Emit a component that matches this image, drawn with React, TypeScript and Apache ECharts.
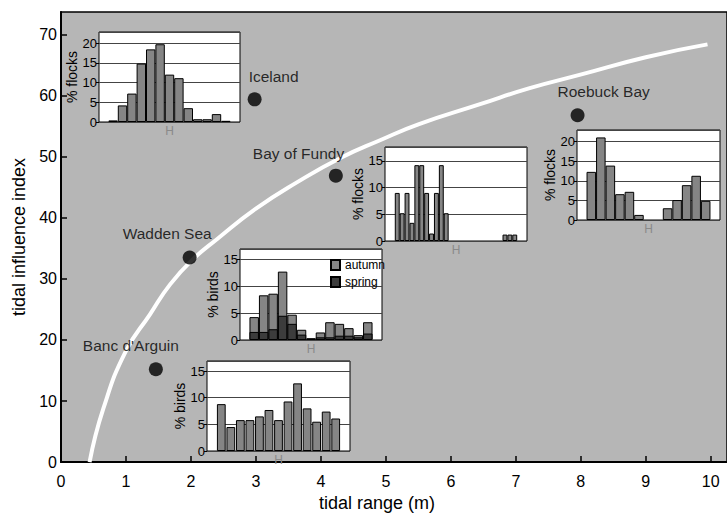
import React, { useEffect, useRef } from 'react';
import * as echarts from 'echarts';

const FONT = "'Liberation Sans Narrow', 'Liberation Sans', Arial, sans-serif";

// main scatter: sites
const siteNames = ['Iceland', 'Roebuck Bay', 'Bay of Fundy', 'Wadden Sea', "Banc d'Arguin"];
const siteRange = [2.98, 7.95, 4.23, 1.98, 1.46];
const siteIndex = [59.4, 56.8, 46.9, 33.5, 15.2];

// white trend curve
const curveRange = [0.44, 0.65, 1.0, 1.37, 1.68, 2.04, 2.4, 3.0, 3.63, 4.3, 4.91, 5.5, 6.45, 7.2, 7.98, 9.0, 9.95];
const curveIndex = [0, 8.7, 18.2, 24.2, 29.1, 33.3, 36.5, 41.5, 45.8, 49.8, 52.7, 55.3, 58.6, 61.2, 63.4, 66.3, 68.4];

// inset histograms (slots; null = empty)
const icelandFlocks = [null, 0.4, 4.2, 7.2, 14.8, 18.4, 19.7, 12, 11.1, 3.5, 0.7, 0.7, 2, 0.3, null];
const fundyFlocks = [null, null, 9, 5.2, 9, 3.4, 14.2, 14.2, 9, 1.4, 9, 14.2, 5.2,
  null, null, null, null, null, null, null, null, null, null, null, 1.2, 1.2, 1.2, null, null];
const roebuckFlocks = [null, 12.3, 21.1, 13.9, 6.6, 7.2, 1.3, null, null, 3, 5.1, 8.9, 11.3, 4.9, null];
const waddenAutumn = [null, 4.25, 8.3, 8.6, 12.7, 4.7, 1.9, 0.3, 1.4, 3.3, 3.0, 2.2, 0.9, 3.3, null];
const waddenSpring = [null, 1.5, 1.5, 2, 4.5, 3, 1, 0.3, 0.5, 0.5, 0.8, 0.8, 0.5, 1.2, null];
const bancBirds = [null, 8.8, 4.5, 5.8, 5.8, 6.5, 7.7, 5.8, 9.3, 12.7, 8.0, 5.5, 7.4, 6.1, null];

// layout of labels relative to dot (px)
const labelPos: [number, number][] = [[1, -16], [-13, -17], [-76, -15], [-60, -17], [-66, -17]];

type Inset = { box: [number, number, number, number]; max: number; yName: string; center: number; n: number };
const insets: Inset[] = [
  { box: [99, 32, 141, 90], max: 22.8, yName: '% flocks', center: 7, n: icelandFlocks.length },
  { box: [385, 147, 142, 94], max: 17.6, yName: '% flocks', center: 14, n: fundyFlocks.length },
  { box: [577, 130, 143, 90], max: 23, yName: '% flocks', center: 7, n: roebuckFlocks.length },
  { box: [240, 249, 142, 91], max: 16.9, yName: '% birds', center: 7, n: waddenAutumn.length },
  { box: [207, 361, 143, 90], max: 16.9, yName: '% birds', center: 7, n: bancBirds.length },
];

export default function App() {
  const ref = useRef<HTMLDivElement>(null);
  useEffect(() => {
    const chart = echarts.init(ref.current!, null, { renderer: 'svg' });

    const grids: any[] = [
      { left: 61, top: 12, width: 666, height: 459, show: true, backgroundColor: '#b6b6b6', borderColor: '#000', borderWidth: 1.5, z: 0 },
    ];
    const xAxes: any[] = [
      {
        type: 'value', gridIndex: 0, min: 0, max: 10.25, interval: 1, z: 1,
        axisLine: { show: true, onZero: false, lineStyle: { color: '#000', width: 2 } },
        axisTick: { inside: true, length: 6, lineStyle: { color: '#000', width: 1.5 } },
        axisLabel: { fontSize: 16, color: '#000', margin: 11, showMaxLabel: false, fontFamily: FONT },
        splitLine: { show: false },
        name: 'tidal range (m)', nameLocation: 'middle', nameGap: 31,
        nameTextStyle: { fontSize: 18, color: '#000', fontFamily: FONT, padding: [0, 34, 0, 0] },
      },
    ];
    const yAxes: any[] = [
      {
        type: 'value', gridIndex: 0, min: 0, max: 73.7, interval: 10, z: 1,
        axisLine: { show: true, onZero: false, lineStyle: { color: '#000', width: 2 } },
        axisTick: { inside: true, length: 6, lineStyle: { color: '#000', width: 1.5 } },
        axisLabel: { fontSize: 16, color: '#000', margin: 4, showMaxLabel: false, fontFamily: FONT },
        splitLine: { show: false },
        name: 'tidal influence index', nameLocation: 'middle', nameGap: 28, nameRotate: 90,
        nameTextStyle: { fontSize: 18, color: '#000', fontFamily: FONT },
      },
    ];

    insets.forEach((ins, k) => {
      const gi = k + 1;
      const [l, t, w, h] = ins.box;
      grids.push({ left: l, top: t, width: w, height: h, show: true, backgroundColor: '#fff', borderColor: '#000', borderWidth: 1, z: 10 });
      const slots = Array.from({ length: ins.n }, (_, i) => String(i));
      xAxes.push({
        type: 'category', gridIndex: gi, data: slots, z: 11,
        axisLine: { show: false }, axisTick: { show: false },
        axisLabel: {
          interval: 0, margin: 3, fontSize: 12, color: '#8a8a8a', fontFamily: FONT,
          formatter: (_v: string, i: number) => (i === ins.center ? 'H' : ''),
        },
        splitLine: { show: false },
      });
      yAxes.push({
        type: 'value', gridIndex: gi, min: 0, max: ins.max, interval: 5, z: 11,
        axisLine: { show: false },
        axisTick: { show: true, length: 3, lineStyle: { color: '#000' } },
        axisLabel: { fontSize: 13, margin: 2, color: '#000', showMaxLabel: false, fontFamily: FONT },
        splitLine: { show: true, lineStyle: { color: '#444', width: 1 } },
        name: ins.yName, nameLocation: 'middle', nameGap: 14, nameRotate: 90,
        nameTextStyle: { fontSize: 14, color: '#000', fontFamily: FONT },
      });
    });

    const barStyle = { color: '#858585', borderColor: '#000', borderWidth: 1 };
    const centerLine = (gi: number) => ({
      silent: true, symbol: 'none', label: { show: false },
      lineStyle: { color: '#8a8a8a', width: 1, type: 'solid' },
      data: [{ xAxis: String(insets[gi - 1].center) }],
    });

    const series: any[] = [
      {
        type: 'line', xAxisIndex: 0, yAxisIndex: 0, z: 2, smooth: true, symbol: 'none',
        data: curveRange.map((x, i) => [x, curveIndex[i]]),
        lineStyle: { color: '#fff', width: 4 },
      },
      {
        type: 'scatter', xAxisIndex: 0, yAxisIndex: 0, z: 3, symbolSize: 14,
        itemStyle: { color: '#000' },
        label: { show: true, formatter: '{b}', align: 'left', verticalAlign: 'middle', fontSize: 15.5, color: '#000', fontFamily: FONT },
        data: siteNames.map((n, i) => ({ name: n, value: [siteRange[i], siteIndex[i]], label: { position: labelPos[i] } })),
      },
      { type: 'bar', xAxisIndex: 1, yAxisIndex: 1, z: 12, data: icelandFlocks, barCategoryGap: '0%', itemStyle: barStyle, markLine: centerLine(1) },
      { type: 'bar', xAxisIndex: 2, yAxisIndex: 2, z: 12, data: fundyFlocks, barCategoryGap: '0%', itemStyle: barStyle, markLine: centerLine(2) },
      { type: 'bar', xAxisIndex: 3, yAxisIndex: 3, z: 12, data: roebuckFlocks, barCategoryGap: '0%', itemStyle: barStyle, markLine: centerLine(3) },
      { type: 'bar', name: 'autumn', xAxisIndex: 4, yAxisIndex: 4, z: 12, data: waddenAutumn, barCategoryGap: '0%', barGap: '-100%', itemStyle: barStyle, markLine: centerLine(4) },
      { type: 'bar', name: 'spring', xAxisIndex: 4, yAxisIndex: 4, z: 12, data: waddenSpring, barCategoryGap: '0%', barGap: '-100%', itemStyle: { color: '#3c3c3c', borderColor: '#000', borderWidth: 1 } },
      { type: 'bar', xAxisIndex: 5, yAxisIndex: 5, z: 12, data: bancBirds, barCategoryGap: '8%', itemStyle: barStyle, markLine: centerLine(5) },
    ];

    chart.setOption({
      animation: false,
      backgroundColor: '#fff',
      textStyle: { fontFamily: FONT },
      grid: grids,
      xAxis: xAxes,
      yAxis: yAxes,
      legend: {
        data: ['autumn', 'spring'], orient: 'vertical', left: 325, top: 254, z: 13,
        itemWidth: 9, itemHeight: 10, itemGap: 5, icon: 'rect', selectedMode: false,
        textStyle: { fontSize: 12, color: '#000', fontFamily: FONT },
      },
      series,
    });
    return () => chart.dispose();
  }, []);
  return <div ref={ref} style={{ position: 'fixed', left: 0, top: 0, width: 727, height: 517 }} />;
}
